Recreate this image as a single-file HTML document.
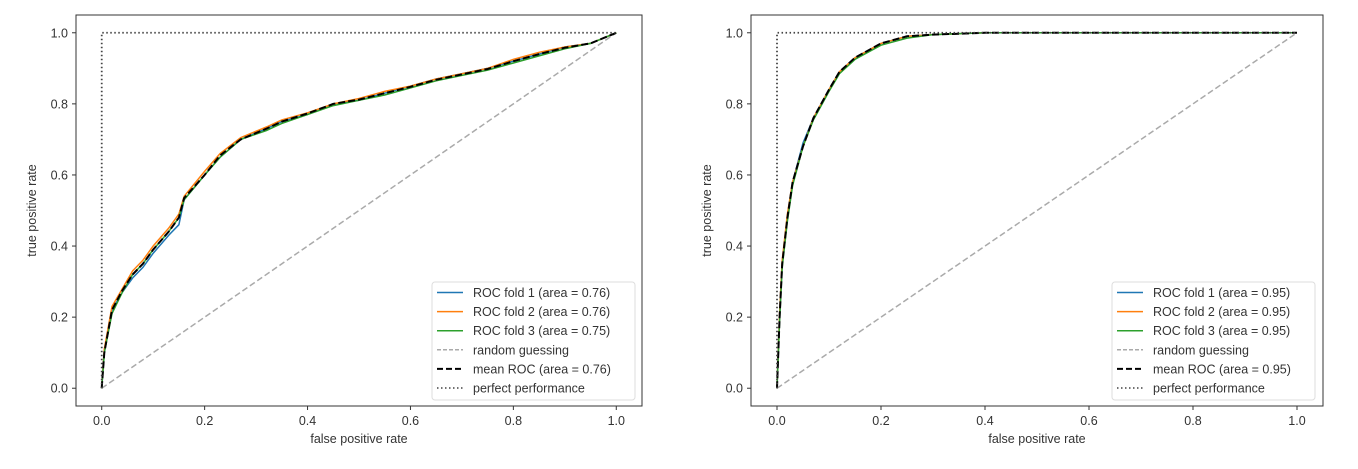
<!DOCTYPE html>
<html><head><meta charset="utf-8"><style>
html,body{margin:0;padding:0;background:#fff;}
svg text{font-family:"Liberation Sans","DejaVu Sans",sans-serif;fill:#333;}
</style></head><body>
<svg id="c" width="1358" height="464" xmlns="http://www.w3.org/2000/svg"></svg>
<script>
const fprL = [0,0.005,0.02,0.04,0.06,0.08,0.1,0.13,0.15,0.16,0.2,0.23,0.27,0.32,0.35,0.4,0.45,0.5,0.55,0.6,0.65,0.7,0.75,0.8,0.85,0.9,0.95,1];
const tprL1 = [0,0.1,0.22,0.27,0.31,0.34,0.38,0.43,0.46,0.53,0.6,0.65,0.7,0.73,0.75,0.77,0.80,0.81,0.83,0.85,0.87,0.885,0.90,0.92,0.94,0.96,0.97,1];
const tprL2 = [0,0.11,0.23,0.28,0.33,0.36,0.40,0.45,0.49,0.54,0.61,0.66,0.705,0.735,0.755,0.775,0.80,0.815,0.835,0.85,0.87,0.885,0.90,0.925,0.945,0.96,0.97,1];
const tprL3 = [0,0.1,0.21,0.27,0.32,0.35,0.39,0.44,0.48,0.53,0.6,0.65,0.70,0.725,0.745,0.77,0.795,0.81,0.825,0.845,0.865,0.88,0.895,0.915,0.935,0.955,0.97,1];
const tprLm = [0,0.1,0.22,0.275,0.32,0.35,0.39,0.44,0.48,0.535,0.6,0.655,0.70,0.73,0.75,0.773,0.80,0.812,0.83,0.848,0.868,0.883,0.898,0.92,0.94,0.958,0.97,1];
const fprR = [0,0.005,0.01,0.02,0.03,0.05,0.07,0.1,0.12,0.15,0.2,0.25,0.3,0.4,1];
const tprR1 = [0,0.2,0.35,0.48,0.58,0.69,0.76,0.84,0.89,0.93,0.97,0.99,0.995,1,1];
const tprR2 = [0,0.21,0.36,0.49,0.58,0.68,0.76,0.84,0.89,0.93,0.97,0.99,0.995,1,1];
const tprR3 = [0,0.19,0.34,0.47,0.57,0.68,0.755,0.835,0.885,0.925,0.965,0.985,0.995,1,1];
const tprRm = [0,0.2,0.35,0.48,0.58,0.68,0.76,0.84,0.89,0.93,0.97,0.99,0.995,1,1];
const ticks = [0,0.2,0.4,0.6,0.8,1.0];
const legendL = ["ROC fold 1 (area = 0.76)","ROC fold 2 (area = 0.76)","ROC fold 3 (area = 0.75)","random guessing","mean ROC (area = 0.76)","perfect performance"];
const legendR = ["ROC fold 1 (area = 0.95)","ROC fold 2 (area = 0.95)","ROC fold 3 (area = 0.95)","random guessing","mean ROC (area = 0.95)","perfect performance"];

const svg=document.getElementById('c');const NS='http://www.w3.org/2000/svg';
function el(t,a,p){const e=document.createElementNS(NS,t);for(const k in a)e.setAttribute(k,a[k]);(p||svg).appendChild(e);return e;}
function panel(name,L,R,T,B,fpr,tprs,mean,legend,lx){
  const g=el('g',{});
  
  
  const x=v=>L+(v+0.05)/1.1*(R-L), y=v=>B-(v+0.05)/1.1*(B-T);
  const path=(xs,ys)=>xs.map((v,i)=>(i?'L':'M')+x(v).toFixed(1)+' '+y(ys[i]).toFixed(1)).join(' ');
  let e=el('line',{x1:x(0),y1:y(0),x2:x(1),y2:y(1),stroke:'#aaa','stroke-width':1.5,'stroke-dasharray':'6,3'},g);
  
  const cols=['#1f77b4','#ff7f0e','#2ca02c'];
  tprs.forEach((t,i)=>{const p=el('path',{d:path(fpr,t),fill:'none',stroke:cols[i],'stroke-width':1.5},g);
    });
  e=el('path',{d:path(fpr,mean),fill:'none',stroke:'#000','stroke-width':2,'stroke-dasharray':'7,3'},g);
  
  e=el('path',{d:`M${x(0)} ${y(0)} L${x(0)} ${y(1)} L${x(1)} ${y(1)}`,fill:'none',stroke:'#444','stroke-width':1.8,'stroke-dasharray':'1.5,2.5'},g);
  
  e=el('rect',{x:L,y:T,width:R-L,height:B-T,fill:'none',stroke:'#333','stroke-width':1},g);
  
  ticks.forEach(t=>{
    el('line',{x1:x(t),y1:B,x2:x(t),y2:B+4,stroke:'#333'},g);
    let tx=el('text',{x:x(t),y:B+19,'text-anchor':'middle','font-size':12.5},g);tx.textContent=t.toFixed(1);
    
    el('line',{x1:L-4,y1:y(t),x2:L,y2:y(t),stroke:'#333'},g);
    tx=el('text',{x:L-8,y:y(t)+4.5,'text-anchor':'end','font-size':12.5},g);tx.textContent=t.toFixed(1);
    
  });
  let t=el('text',{x:(L+R)/2,y:443,'text-anchor':'middle','font-size':12.5},g);t.textContent='false positive rate';
  
  t=el('text',{x:0,y:0,'text-anchor':'middle','font-size':12.5,transform:`translate(${L-40},${(T+B)/2}) rotate(-90)`},g);t.textContent='true positive rate';
  
  const lg=el('g',{},g);
  
  el('rect',{x:lx,y:282,width:203,height:118,rx:3,fill:'#fff',stroke:'#ddd'},lg);
  const st=[[cols[0],1.5,''],[cols[1],1.5,''],[cols[2],1.5,''],['#aaa',1.5,'4,2'],['#000',2,'6,3'],['#444',1.5,'1.5,2.5']];
  legend.forEach((s,i)=>{const yy=292.5+i*19.1;
    el('line',{x1:lx+5,y1:yy,x2:lx+31,y2:yy,stroke:st[i][0],'stroke-width':st[i][1],'stroke-dasharray':st[i][2]},lg);
    const tt=el('text',{x:lx+41,y:yy+4.5,'font-size':12.5},lg);tt.textContent=s;
    });
}
panel('left-roc-chart',76,642,15,406,fprL,[tprL1,tprL2,tprL3],tprLm,legendL,432);
panel('right-roc-chart',751,1323,15,406,fprR,[tprR1,tprR2,tprR3],tprRm,legendR,1112);
</script>
</body></html>
